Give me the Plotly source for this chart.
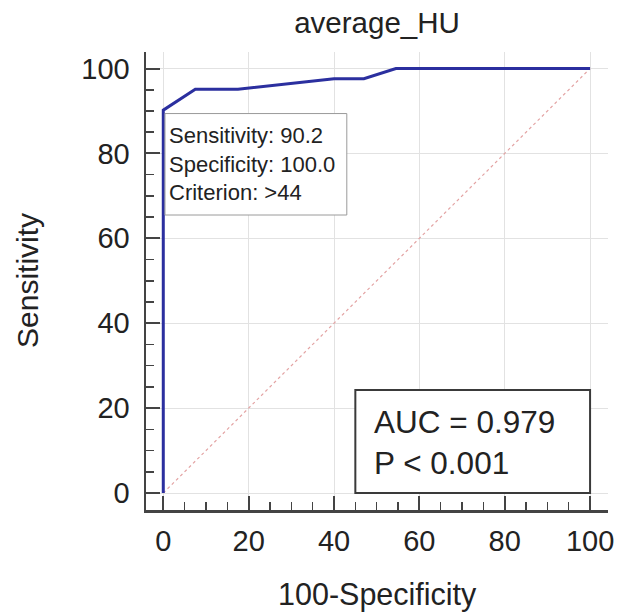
import plotly.graph_objects as go

# ROC curve points (100-Specificity, Sensitivity)
fpr = [0, 0, 7.5, 17.5, 40, 47, 54.5, 100]
tpr = [0, 90.2, 95.1, 95.1, 97.6, 97.6, 100, 100]
ref_x = [0, 100]
ref_y = [0, 100]
tick_vals = [0, 20, 40, 60, 80, 100]

criterion_lines = ["Sensitivity: 90.2", "Specificity: 100.0", "Criterion: >44"]
auc_lines = ["AUC = 0.979", "P < 0.001"]

FONT = "Liberation Sans, Arial, sans-serif"
AX = "#444444"
TXT = "#222222"

W, H = 620, 614

fig = go.Figure()
fig.add_trace(go.Scatter(x=ref_x, y=ref_y, mode="lines",
                         line=dict(color="#e3a3a3", width=1.2, dash="dot"),
                         hoverinfo="skip", showlegend=False))
fig.add_trace(go.Scatter(x=fpr, y=tpr, mode="lines",
                         line=dict(color="#2b2f9f", width=3),
                         showlegend=False))

axis_common = dict(
    showline=True, linecolor=AX, linewidth=2.5,
    ticks="inside", ticklen=14, tickwidth=2, tickcolor=AX,
    tickvals=tick_vals,
    minor=dict(ticks="inside", ticklen=8, tickwidth=1.5, tickcolor=AX, dtick=5, showgrid=False),
    showgrid=True, gridcolor="#e2e2e2", gridwidth=1,
    zeroline=False,
    tickfont=dict(family=FONT, size=29, color=TXT),
    automargin=False,
    fixedrange=True,
)
fig.update_xaxes(range=[-4.05, 104.2], ticklabelstandoff=4, **axis_common)
fig.update_yaxes(range=[-4.0, 103.9], ticklabelstandoff=8, **axis_common)

# Criterion box
fig.add_shape(type="rect", xref="x", yref="y", x0=0.4, x1=43, y0=65.5, y1=89.4,
              line=dict(color="#9a9a9a", width=1), fillcolor="white", layer="above")
fig.add_annotation(xref="x", yref="y", x=0.8, y=77.6, xanchor="left", yanchor="middle",
                   text="<br>".join(criterion_lines), align="left", showarrow=False,
                   font=dict(family=FONT, size=22, color=TXT))

# AUC box
fig.add_shape(type="rect", xref="x", yref="y", x0=45, x1=100, y0=0, y1=24.3,
              line=dict(color="#3a3a3a", width=2), fillcolor="white", layer="above")
fig.add_annotation(xref="x", yref="y", x=48.8, y=11.8, xanchor="left", yanchor="middle",
                   text="<br>".join(auc_lines), align="left", showarrow=False,
                   font=dict(family=FONT, size=31.5, color=TXT))

# Axis titles
fig.add_annotation(xref="paper", yref="paper", x=(27 - 146) / 462, y=0.5,
                   xanchor="center", yanchor="middle", textangle=-90,
                   text="Sensitivity", showarrow=False,
                   font=dict(family=FONT, size=30, color=TXT))
fig.add_annotation(xref="paper", yref="paper", x=0.5, y=(510 - 594) / 458,
                   xanchor="center", yanchor="middle",
                   text="100-Specificity", showarrow=False,
                   font=dict(family=FONT, size=30.5, color=TXT))

fig.update_layout(
    width=W, height=H,
    margin=dict(l=146, r=12, t=52, b=104, autoexpand=False),
    paper_bgcolor="white", plot_bgcolor="white",
    title=dict(text="average_HU", x=0.5, xref="paper", y=1 - 23 / H, yref="container",
               xanchor="center", yanchor="middle",
               font=dict(family=FONT, size=29.5, color=TXT)),
    showlegend=False,
    hovermode=False,
)

# remove the page's default body margin so the figure fills the window exactly
fig.write_html("out.html", config={"displayModeBar": False, "staticPlot": True},
               post_script="document.body.style.margin='0';")
